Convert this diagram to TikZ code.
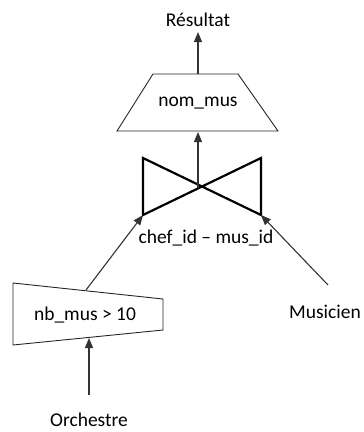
\documentclass[tikz,border=0pt]{standalone}
\usepackage{fontspec}
\setmainfont{Carlito}
\usetikzlibrary{arrows.meta}
\begin{document}
\begin{tikzpicture}[x=1pt,y=-1pt,
  lbl/.style={inner sep=0pt,text=black,font=\fontsize{19.5}{23}\selectfont},
  conn/.style={draw=black!80,line width=1.1pt,-{Triangle[length=10pt,width=8pt]}},
  opshape/.style={draw=black!85,line width=0.9pt},
  bowtie/.style={draw=black,line width=2.2pt,line join=miter}]
\useasboundingbox (0,0) rectangle (364,432);
% projection trapezoid
\coordinate (pTL) at (153,74);
\coordinate (pTR) at (238,74);
\coordinate (pBR) at (278,131);
\coordinate (pBL) at (117,131);
\draw[opshape] (pTL) -- (pTR) -- (pBR) -- (pBL) -- cycle;
\node[lbl] (proj) at (198,103) {nom\_mus};
\coordinate (pTop) at (198,74);
\coordinate (pBot) at (198,132);
\node[lbl] (res) at (198,20) {Résultat};
% join bowtie
\coordinate (jTL) at (143,158);
\coordinate (jBL) at (143,215);
\coordinate (jTR) at (261,158);
\coordinate (jBR) at (261,215);
\coordinate (jC) at (198,188);
\draw[bowtie] (jTL) -- (jBL) -- (jTR) -- (jBR) -- cycle;
\node[lbl] (jlab) at (206,238) {chef\_id  – mus\_id};
% selection
\coordinate (sTL) at (13,283);
\coordinate (sTR) at (163,299);
\coordinate (sBR) at (163,330);
\coordinate (sBL) at (13,345);
\draw[opshape] (sTL) -- (sTR) -- (sBR) -- (sBL) -- cycle;
\node[lbl] (sel) at (85,315) {nb\_mus > 10};
\coordinate (sTop) at (86,290);
\coordinate (sBot) at (89,338);
\node[lbl] (orch) at (89,420) {Orchestre};
\coordinate (orchTop) at (89,395);
\node[lbl] (mus) at (325,312) {Musicien};
\coordinate (musTop) at (328,285);
% connectors
\draw[conn] (pTop) -- (res.south |- 0,32);
\draw[conn] (jC) -- (pBot);
\draw[conn] (sTop) -- (jBL);
\draw[conn] (musTop) -- (jBR);
\draw[conn] (orchTop) -- (sBot);
\end{tikzpicture}
\end{document}
